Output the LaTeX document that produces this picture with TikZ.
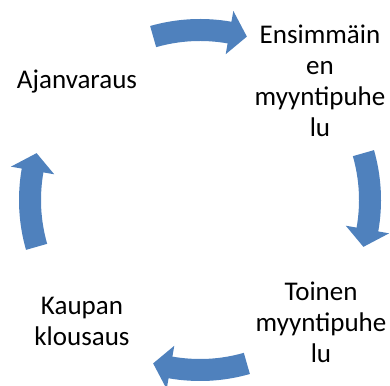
\documentclass[tikz,border=0pt]{standalone}
\usepackage{fontspec}
\setmainfont{Carlito}
\usepackage{tikz}
\usetikzlibrary{positioning,calc}
\definecolor{cycleblue}{RGB}{79,129,189}

\begin{document}
\begin{tikzpicture}[x=1pt,y=1pt]
      \tikzstyle{phase} = [font=\fontsize{27}{31}\selectfont,align=center,inner sep=0pt]
      \tikzstyle{cyclearrow} = [fill=cycleblue]
      \useasboundingbox (0,0) rectangle (390,385);
      \coordinate (c) at (200,185);
      \node[phase] (first)  at (320,304) {Ensimmäin\\en\\myyntipuhe\\lu};
      \node[phase] (second) at (321,63)  {Toinen\\myyntipuhe\\lu};
      \node[phase] (close)  at (82,64)   {Kaupan\\klousaus};
      \node[phase] (book)   at (77,303)  {Ajanvaraus};
      % curved arrows between the phases
      \foreach \a in {90,0,-90,-180}{
        \fill[cyclearrow,shift={(c)}] (\a+16:181pt)
          arc[start angle=\a+16,end angle=\a-10,radius=181pt]
          -- (\a-10:192pt) -- (\a-16:170pt) -- (\a-10:148pt) -- (\a-10:159pt)
          arc[start angle=\a-10,end angle=\a+16,radius=159pt] -- cycle;
      }
    \end{tikzpicture}
\end{document}
